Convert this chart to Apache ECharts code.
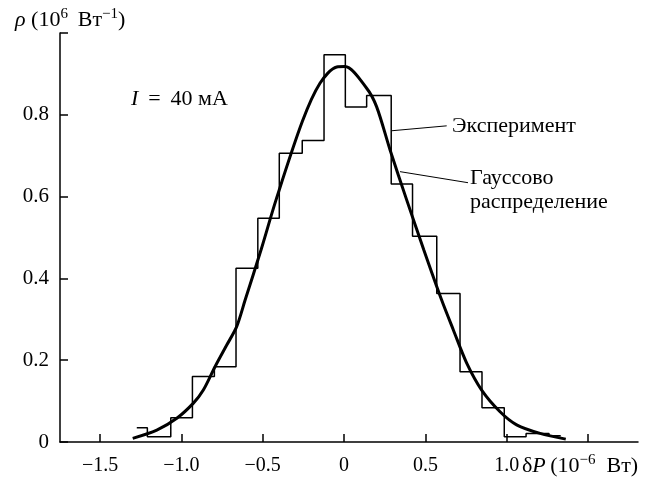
<!DOCTYPE html>
<html>
<head>
<meta charset="utf-8">
<script src="https://cdn.jsdelivr.net/npm/echarts@6/dist/echarts.min.js"></script>
<style>html,body{margin:0;padding:0;background:#fff}#c{width:656px;height:477px}</style>
</head>
<body>
<div id="c"></div>
<script>
// Histogram (experiment): bin edges and heights
var binEdges = [-1.274, -1.209, -1.065, -0.932, -0.797, -0.664, -0.530, -0.398, -0.257, -0.123, 0.008, 0.139, 0.290, 0.421, 0.570, 0.713, 0.848, 0.985, 1.119, 1.260, 1.332];
var binHeights = [0.035, 0.013, 0.059, 0.160, 0.184, 0.425, 0.547, 0.706, 0.737, 0.947, 0.819, 0.847, 0.631, 0.503, 0.363, 0.172, 0.084, 0.013, 0.021, 0.015];
// Gaussian curve
var gaussX = [-1.299, -1.151, -1.028, -0.926, -0.865, -0.793, -0.721, -0.660, -0.608, -0.510, -0.418, -0.256, -0.148, -0.045, 0.006, 0.139, 0.200, 0.283, 0.385, 0.490, 0.600, 0.672, 0.754, 0.846, 0.959, 1.061, 1.205, 1.363];
var gaussY = [0.009, 0.029, 0.058, 0.095, 0.127, 0.184, 0.237, 0.282, 0.347, 0.470, 0.592, 0.784, 0.877, 0.917, 0.918, 0.865, 0.820, 0.714, 0.592, 0.470, 0.347, 0.274, 0.193, 0.127, 0.074, 0.042, 0.021, 0.007];
// Ticks
var xTicks = [-1.5, -1.0, -0.5, 0, 0.5, 1.0, 1.5];
var xTickLabels = [-1.5, -1.0, -0.5, 0, 0.5, 1.0];
var yTicks = [0, 0.2, 0.4, 0.6, 0.8, 1.0];
var yTickLabels = [0, 0.2, 0.4, 0.6, 0.8];
// Annotation leader lines (data coords)
var expLeader = [[0.293, 0.761], [0.631, 0.773]];
var gaussLeader = [[0.344, 0.661], [0.762, 0.634]];

var histData = [];
for (var i = 0; i < binHeights.length; i++) {
  histData.push([binEdges[i], binHeights[i]]);
  histData.push([binEdges[i + 1], binHeights[i]]);
}
var gaussData = gaussX.map(function (x, i) { return [x, gaussY[i]]; });

var FONT = '"Liberation Serif", "DejaVu Serif", serif';
function fmt(v) {
  if (Math.abs(v) < 1e-9) return '0';
  return (v < 0 ? '\u2212' : '') + Math.abs(v).toFixed(1);
}
var supStyle = { fontFamily: FONT, fontSize: 15, verticalAlign: 'top', lineHeight: 15, fill: '#000' };
var itStyle = { fontFamily: FONT, fontSize: 22, fontStyle: 'italic', lineHeight: 26, fill: '#000' };
var nStyle = { fontFamily: FONT, fontSize: 22, lineHeight: 26, fill: '#000' };

var chart = echarts.init(document.getElementById('c'), null, { renderer: 'canvas' });
chart.setOption({
  animation: false,
  backgroundColor: '#fff',
  grid: { left: 60, right: 18, top: 33, bottom: 35, outerBoundsMode: 'none' },
  xAxis: {
    type: 'value', min: -1.746, max: 1.807,
    axisLine: { show: true, onZero: false, lineStyle: { color: '#000', width: 1.5 } },
    axisTick: { show: true, inside: true, length: 8, lineStyle: { color: '#000', width: 1.5 }, customValues: xTicks },
    axisLabel: { color: '#000', fontFamily: FONT, fontSize: 20, margin: 14, customValues: xTickLabels, formatter: fmt },
    splitLine: { show: false }
  },
  yAxis: {
    type: 'value', min: 0, max: 1.0,
    axisLine: { show: true, onZero: false, lineStyle: { color: '#000', width: 1.5 } },
    axisTick: { show: true, inside: true, length: 8, lineStyle: { color: '#000', width: 1.5 }, customValues: yTicks },
    axisLabel: { color: '#000', fontFamily: FONT, fontSize: 21, margin: 11, customValues: yTickLabels, formatter: fmt },
    splitLine: { show: false }
  },
  series: [
    { type: 'line', data: histData, symbol: 'none', lineStyle: { color: '#000', width: 1.5 }, z: 2 },
    { type: 'line', data: gaussData, symbol: 'none', smooth: 0.3, lineStyle: { color: '#000', width: 3 }, z: 3 },
    { type: 'line', data: expLeader, symbol: 'none', lineStyle: { color: '#000', width: 1 } },
    { type: 'line', data: gaussLeader, symbol: 'none', lineStyle: { color: '#000', width: 1 } }
  ],
  graphic: [
    { type: 'text', left: 15, top: 7, style: { text: '{i|\u03c1}{n| (10}{s|6}{n| \u2009\u0412\u0442}{s|\u22121}{n|)}', rich: { i: itStyle, n: nStyle, s: supStyle } } },
    { type: 'text', left: 131, top: 88, style: { text: '{i|I}{n| \u2009= \u200940 \u043c\u0410}', rich: { i: itStyle, n: nStyle } } },
    { type: 'text', left: 522, top: 453, style: { text: '{n|\u03b4}{i|P}{n|\u2009(10}{s|\u22126}{n|\u2002\u0412\u0442)}', rich: { i: itStyle, n: nStyle, s: supStyle } } },
    { type: 'text', left: 452, top: 113, style: { text: '\u042d\u043a\u0441\u043f\u0435\u0440\u0438\u043c\u0435\u043d\u0442', fontFamily: FONT, fontSize: 22, lineHeight: 26, fill: '#000' } },
    { type: 'text', left: 470, top: 166, style: { text: '\u0413\u0430\u0443\u0441\u0441\u043e\u0432\u043e\n\u0440\u0430\u0441\u043f\u0440\u0435\u0434\u0435\u043b\u0435\u043d\u0438\u0435', fontFamily: FONT, fontSize: 22, lineHeight: 24, fill: '#000' } }
  ]
});
</script>
</body>
</html>
